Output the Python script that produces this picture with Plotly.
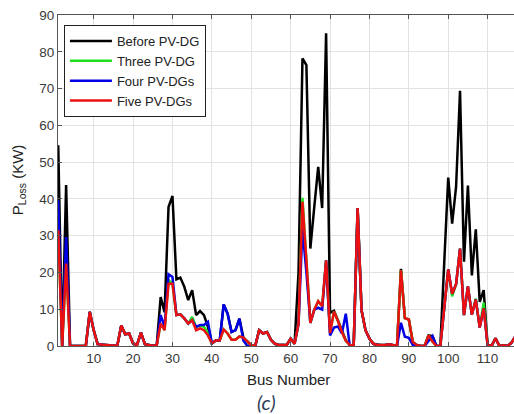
import plotly.graph_objects as go

bus = list(range(1, 119))

before = [54.6, 0, 43.8, 0, 0, 0, 0, 0, 9.3, 4.3,
          0.5, 0.3, 0.3, 0.2, 0.1, 0.1, 5.6, 3.2, 3.4, 0.7,
          0.3, 3.6, 0.5, 0.2, 0.1, 0.2, 13.3, 9.2, 37.8, 40.8,
          18.1, 18.6, 16.1, 12.5, 15.2, 8.4, 9.5, 8.4, 5.2, 0.7,
          1.5, 1.5, 11.3, 8.8, 3.8, 4.3, 7.4, 2.3, 1.1, 0.2,
          0, 4.3, 3.4, 3.8, 1.7, 0.6, 0.3, 0.3, 0.3, 2.0,
          0.6, 20.0, 78.2, 76.4, 26.5, 37.8, 48.7, 37.5, 85.0, 9.0,
          9.6, 7.0, 4.5, 1.5, 0.3, 0, 37.5, 9.7, 4.3, 2.0,
          0.6, 0.3, 0.2, 0.3, 0.5, 0.2, 0, 21.0, 7.6, 7.2,
          1.1, 0.3, 0, 0, 2.9, 2.7, 0, 0, 23.0, 45.8,
          33.3, 43.3, 69.4, 22.9, 43.6, 19.2, 31.7, 12.0, 15.2, 0.2,
          0, 2.1, 0, 0.2, 0, 0.8, 2.5, 2.0]

five = [31.5, 0, 22.4, 0, 0, 0, 0, 0, 9.3, 4.3,
        0.5, 0.3, 0.3, 0.2, 0.1, 0.1, 5.6, 3.2, 3.4, 0.7,
        0.3, 3.6, 0.5, 0.2, 0.1, 0.2, 6.1, 4.3, 16.9, 16.9,
        8.4, 8.6, 7.5, 6.1, 7.0, 4.3, 4.8, 4.3, 2.9, 0.7,
        1.5, 1.5, 4.5, 3.4, 1.7, 1.7, 2.6, 2.3, 1.1, 0.2,
        0, 4.3, 3.4, 3.8, 1.7, 0.6, 0.3, 0.3, 0.3, 2.0,
        0.6, 6.0, 39.2, 23.3, 6.3, 9.9, 12.2, 10.8, 23.3, 3.5,
        9.4, 6.8, 3.8, 1.5, 0.3, 0, 37.5, 9.7, 4.3, 2.0,
        0.6, 0.3, 0.2, 0.3, 0.5, 0.2, 0, 20.6, 7.6, 7.2,
        1.1, 0.3, 0, 0, 2.9, 1.2, 0, 0, 10.4, 20.8,
        14.2, 16.8, 26.5, 8.4, 16.2, 8.5, 12.6, 5.0, 10.2, 0.2,
        0, 2.1, 0, 0.2, 0, 0.8, 2.5, 2.0]

three = [31.5, 0, 22.4, 0, 0, 0, 0, 0, 9.3, 4.3,
         0.5, 0.3, 0.3, 0.2, 0.1, 0.1, 5.6, 3.2, 3.4, 0.7,
         0.3, 3.6, 0.5, 0.2, 0.1, 0.2, 6.1, 4.3, 18.0, 16.9,
         8.4, 8.6, 7.5, 6.1, 7.9, 5.2, 5.5, 5.2, 3.5, 0.7,
         1.5, 1.5, 4.5, 3.4, 1.7, 1.7, 2.6, 2.3, 1.1, 0.2,
         0, 4.3, 3.4, 3.8, 1.7, 0.6, 0.3, 0.3, 0.3, 2.0,
         0.6, 6.0, 40.3, 23.3, 6.3, 9.9, 12.2, 10.8, 23.3, 3.5,
         9.4, 6.8, 3.8, 1.5, 0.3, 0, 37.5, 9.7, 4.3, 2.0,
         0.6, 0.3, 0.2, 0.3, 0.5, 0.2, 0, 20.6, 7.6, 7.2,
         1.1, 0.3, 0, 0, 2.9, 1.2, 0, 0, 10.4, 20.8,
         13.5, 16.8, 26.5, 8.4, 16.2, 8.5, 12.9, 5.0, 11.8, 0.2,
         0, 2.1, 0, 0.2, 0, 0.8, 2.5, 2.0]

four = [39.6, 0, 29.6, 0, 0, 0, 0, 0, 9.3, 4.3,
        0.5, 0.3, 0.3, 0.2, 0.1, 0.1, 5.6, 3.2, 3.4, 0.7,
        0.3, 3.6, 0.5, 0.2, 0.1, 0.2, 8.4, 5.2, 19.5, 18.8,
        8.4, 8.6, 7.5, 6.1, 7.0, 5.2, 5.7, 5.7, 6.6, 0.7,
        1.5, 1.5, 11.3, 8.8, 3.8, 4.3, 7.4, 1.5, 0, 0,
        0, 4.3, 3.4, 3.8, 1.7, 0.6, 0.3, 0.3, 0.3, 2.0,
        0.6, 6.0, 31.9, 20.0, 6.3, 9.9, 10.4, 9.9, 23.3, 2.9,
        5.0, 5.3, 3.4, 8.8, 0, 0, 37.5, 9.7, 4.3, 2.0,
        0.6, 0.3, 0.2, 0.3, 0.5, 0.2, 0, 6.3, 2.5, 2.2,
        0.3, 0.3, 0, 0, 1.5, 2.7, 0, 0, 10.4, 20.8,
        14.2, 16.8, 26.5, 8.4, 16.2, 8.5, 12.6, 5.0, 10.2, 0.2,
        0, 2.1, 0, 0.2, 0, 0.8, 2.5, 2.0]

series = [
    ("Before PV-DG", before, "#000000"),
    ("Three PV-DG", three, "#1ee01e"),
    ("Four PV-DGs", four, "#0000e6"),
    ("Five PV-DGs", five, "#ec1010"),
]

x_ticks = list(range(10, 111, 10))
y_ticks = list(range(0, 91, 10))

FONT = "Arial, Liberation Sans, sans-serif"

fig = go.Figure()
for name, vals, col in series:
    fig.add_trace(go.Scatter(x=bus, y=vals, mode="lines", name=name,
                             line=dict(color=col, width=2.5)))

fig.update_layout(
    width=514, height=414,
    margin=dict(l=58, r=0, t=15, b=68),
    paper_bgcolor="white", plot_bgcolor="white",
    font=dict(family=FONT, color="#333333"),
    showlegend=True,
    legend=dict(x=0.013, y=0.97, xanchor="left", yanchor="top",
                bgcolor="white", bordercolor="#222222", borderwidth=1,
                font=dict(size=13, color="#222222", family=FONT),
                itemwidth=42, tracegroupgap=0),
    xaxis=dict(range=[0.94, 116.7], tickmode="array", tickvals=x_ticks,
               ticktext=[str(v) for v in x_ticks],
               ticks="inside", ticklen=4, tickcolor="#555555",
               showline=True, linecolor="#555555", linewidth=1, mirror="ticks",
               showgrid=True, gridcolor="#e2e2e2", gridwidth=1, zeroline=False,
               tickfont=dict(size=13.5, color="#3a3a3a")),
    yaxis=dict(range=[0, 90], tickmode="array", tickvals=y_ticks,
               ticktext=[str(v) for v in y_ticks],
               ticks="inside", ticklen=4, tickcolor="#555555",
               showline=True, linecolor="#555555", linewidth=1, mirror=False,
               showgrid=True, gridcolor="#e2e2e2", gridwidth=1, zeroline=False,
               tickfont=dict(size=13.5, color="#3a3a3a")),
    annotations=[
        dict(text="Bus Number", xref="paper", yref="paper", x=0.506, y=-0.1007,
             xanchor="center", yanchor="middle", showarrow=False,
             font=dict(size=15, color="#222222", family=FONT)),
        dict(text="P<sub>Loss</sub> (KW)", xref="paper", yref="paper",
             x=-0.0877, y=0.501, textangle=-90, xanchor="center", yanchor="middle",
             showarrow=False, font=dict(size=15, color="#222222", family=FONT)),
        dict(text="<i>(c)</i>", xref="paper", yref="paper", x=0.458, y=-0.169,
             xanchor="center", yanchor="middle", showarrow=False,
             font=dict(size=20, color="#2f3b56", family="Lato, Open Sans, sans-serif")),
    ],
)

fig.write_html("out.html")
